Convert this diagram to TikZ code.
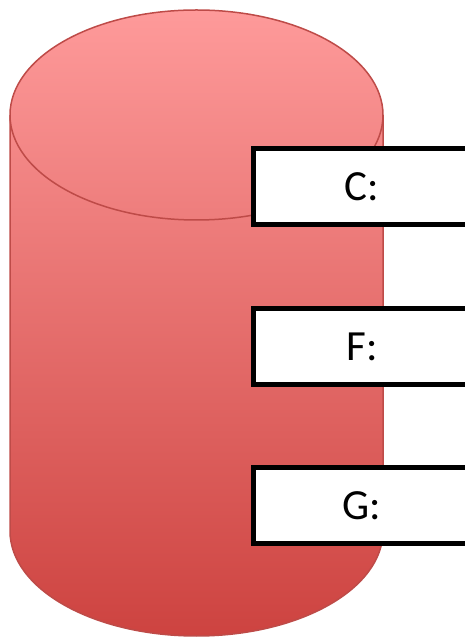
\documentclass[tikz,border=0pt]{standalone}
\usepackage{fontspec}
\setmainfont{Carlito}
\definecolor{cyltop}{RGB}{254,154,154}
\definecolor{cylbottom}{RGB}{205,67,64}
\definecolor{cyledge}{RGB}{190,75,72}
\tikzset{
  cylfill/.style={top color=cyltop, bottom color=cylbottom, draw=cyledge, line width=1.5pt},
  cylrim/.style={draw=cyledge, line width=1.5pt},
  drivebox/.style={draw=black, fill=white, line width=5pt, minimum width=218pt,
    minimum height=76pt, inner sep=0pt,
    font=\fontsize{43}{50}\selectfont}
}
\begin{document}
\begin{tikzpicture}[x=1pt,y=1pt]
  \useasboundingbox (0,0) rectangle (465,637);
  \clip (0,0) rectangle (465,637);
  % cylinder body
  \path[cylfill] (10,522) -- (10,106)
    arc[start angle=180, end angle=360, x radius=186.5, y radius=105]
    -- (383,522)
    arc[start angle=0, end angle=180, x radius=186.5, y radius=105] -- cycle;
  % front rim of the top face
  \draw[cylrim] (10,522)
    arc[start angle=180, end angle=360, x radius=186.5, y radius=105];
  % drive labels
  \node[drivebox] (c) at (362,450.5) {C:};
  \node[drivebox] (f) at (362,290.5) {F:};
  \node[drivebox] (g) at (362,131) {G:};
\end{tikzpicture}
\end{document}
